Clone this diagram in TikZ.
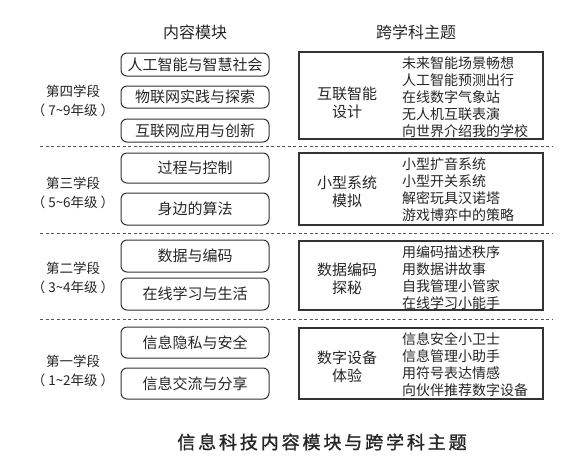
\documentclass[tikz,border=0pt]{standalone}
\usepackage{fontspec}
\setmainfont{Noto Sans CJK SC}
\newfontfamily\capfont[LetterSpace=16, FakeBold=1.2]{Noto Sans CJK SC}
\definecolor{txtc}{HTML}{262626}
\definecolor{linec}{HTML}{333333}
\definecolor{dashc}{HTML}{555555}
\newcommand{\grd}[2]{（\hspace{3pt}#1\textasciitilde #2年级\hspace{3pt}）}
\begin{document}
\begin{tikzpicture}[x=1pt,y=-1pt,
  every node/.style={text=txtc},
  head/.style={inner sep=0pt, font=\fontsize{16}{19}\selectfont},
  modbox/.style={draw=linec, line width=1pt, rounded corners=6pt, minimum width=148pt, inner sep=0pt, font=\fontsize{15}{18}\selectfont},
  themebox/.style={draw=linec, line width=1.1pt, minimum width=244pt, inner sep=0pt},
  lab/.style={inner sep=0pt, align=center, font=\fontsize{15}{18}\selectfont},
  lst/.style={inner sep=0pt, anchor=west, align=left, font=\fontsize{14}{17}\selectfont},
  stage/.style={inner sep=0pt, align=center, font=\fontsize{13.5}{19}\selectfont},
  sepline/.style={draw=dashc, line width=1pt, dash pattern=on 3pt off 2.5pt},
  captext/.style={inner sep=0pt, font=\fontsize{18}{21}\capfont}
]
\useasboundingbox (0,0) rectangle (562,464);
\fill[white] (0,0) rectangle (562,464);

% headers
\node[head] (h1) at (195,32) {内容模块};
\node[head] (h2) at (416,32) {跨学科主题};

% separators
\coordinate (d1a) at (40,146.5); \coordinate (d1b) at (552,146.5);
\coordinate (d2a) at (40,233.5); \coordinate (d2b) at (552,233.5);
\coordinate (d3a) at (40,319.5); \coordinate (d3b) at (552,319.5);
\draw[sepline] (d1a) -- (d1b);
\draw[sepline] (d2a) -- (d2b);
\draw[sepline] (d3a) -- (d3b);

% stage 4
\node[stage] (s4) at (73,101) {第四学段\\\grd{7}{9}};
\node[modbox, minimum height=23pt] (m41) at (195,64.5) {人工智能与智慧社会};
\node[modbox, minimum height=22pt] (m42) at (195,97) {物联网实践与探索};
\node[modbox, minimum height=23pt] (m43) at (195,130.5) {互联网应用与创新};
\node[themebox, minimum height=87pt] (t4) at (421,95.5) {};
\node[lab] (t4l) at (347,102.5) {互联智能\\设计};
\node[lst] (t4r) at (402,97) {未来智能场景畅想\\人工智能预测出行\\在线数字气象站\\无人机互联表演\\向世界介绍我的学校};

% stage 3
\node[stage] (s3) at (73,193) {第三学段\\\grd{5}{6}};
\node[modbox, minimum height=30pt] (m31) at (195,168) {过程与控制};
\node[modbox, minimum height=32pt] (m32) at (195,209) {身边的算法};
\node[themebox, minimum height=72pt] (t3) at (421,189) {};
\node[lab] (t3l) at (347,191.5) {小型系统\\模拟};
\node[lst] (t3r) at (402,189.5) {小型扩音系统\\小型开关系统\\解密玩具汉诺塔\\游戏博弈中的策略};

% stage 2
\node[stage] (s2) at (73,277.5) {第二学段\\\grd{3}{4}};
\node[modbox, minimum height=32pt] (m21) at (195,256) {数据与编码};
\node[modbox, minimum height=32pt] (m22) at (195,294) {在线学习与生活};
\node[themebox, minimum height=69pt] (t2) at (421,275.5) {};
\node[lab] (t2l) at (347,278.5) {数据编码\\探秘};
\node[lst] (t2r) at (402,277.5) {用编码描述秩序\\用数据讲故事\\自我管理小管家\\在线学习小能手};

% stage 1
\node[stage] (s1) at (73,371) {第一学段\\\grd{1}{2}};
\node[modbox, minimum height=31pt] (m11) at (195,342.5) {信息隐私与安全};
\node[modbox, minimum height=31pt] (m12) at (195,383.5) {信息交流与分享};
\node[themebox, minimum height=71pt] (t1) at (421,363.5) {};
\node[lab] (t1l) at (347,367) {数字设备\\体验};
\node[lst] (t1r) at (402,364.5) {信息安全小卫士\\信息管理小助手\\用符号表达情感\\向伙伴推荐数字设备};

% caption
\node[captext] (cap) at (322,442) {信息科技内容模块与跨学科主题};
\end{tikzpicture}
\end{document}
